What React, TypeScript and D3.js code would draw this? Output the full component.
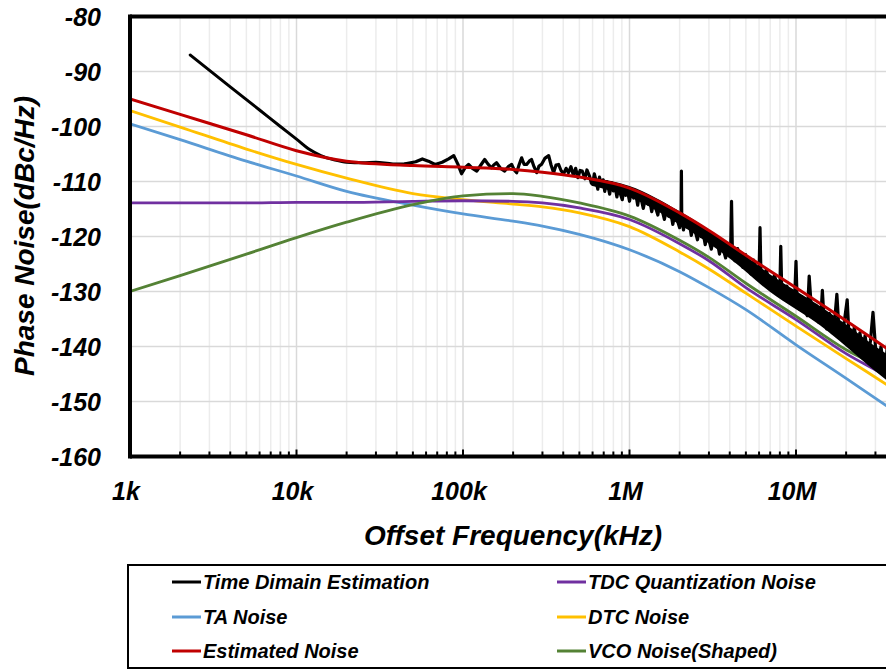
import React from "react";
import * as d3 from "d3";

// ---------- DATA ----------
// offset frequency in kHz
const freqs = [1, 2, 5, 10, 20, 50, 100, 200, 300, 500, 1000, 2000, 3000, 5000, 10000, 20000, 35000, 100000];
const taNoise = [-99.5, -102.4, -106.3, -109.0, -111.8, -114.3, -115.9, -117.2, -118.1, -119.6, -122.4, -126.4, -129.3, -133.3, -139.7, -145.8, -150.8, -160.0];
const dtcNoise = [-97.1, -100.1, -104.1, -106.9, -109.4, -112.2, -113.3, -114.1, -114.6, -115.7, -118.2, -122.8, -125.9, -130.3, -136.3, -142.2, -146.9, -156.0];
const tdcNoise = [-113.9, -113.9, -113.9, -113.8, -113.8, -113.6, -113.5, -113.6, -113.9, -114.8, -116.9, -121.3, -124.4, -129.3, -135.1, -141.3, -145.4, -154.5];
const vcoNoise = [-130.0, -127.1, -123.2, -120.2, -117.4, -114.2, -112.6, -112.2, -112.7, -113.9, -116.3, -120.7, -123.8, -128.5, -134.5, -140.6, -144.3, -153.0];
const estNoise = [-95.0, -97.8, -101.5, -104.4, -106.3, -107.1, -107.4, -107.8, -108.3, -109.2, -111.2, -115.7, -118.9, -123.4, -129.3, -135.3, -140.3, -149.5];

// time-domain estimation trace, smooth start [kHz, dBc/Hz]
const timeDomainStart: [number, number][] = [
  [2.3, -87.0], [4, -92.8], [6, -97.0], [8, -100.0], [10, -102.3], [12, -104.2], [14, -105.3], [17, -106.1],
  [20, -106.5], [25, -106.6], [30, -106.5], [38, -106.8], [45, -106.8],
];
// noisy part of the time-domain trace [kHz, dBc/Hz]
const timeDomain: [number, number][] = [
  [45, -106.8], [52, -106.4], [57, -105.9], [62, -106.3],
  [68, -106.9], [75, -106.5], [82, -105.9], [88, -105.3], [93, -106.8], [98, -108.6], [103, -107.5], [108, -106.9],
  [114, -107.6], [121, -108.1], [128, -107.0], [135, -106.0], [141, -106.8], [148, -107.5], [153, -107.0], [159, -106.6],
  [168, -107.6], [178, -108.1], [187, -107.3], [196, -106.9], [203, -107.9], [210, -108.4], [217, -107.0], [225, -105.7],
  [233, -106.9], [241, -106.9], [250, -106.3], [258, -106.0], [267, -107.3], [277, -108.4], [286, -107.2], [296, -106.9],
  [310, -105.8], [327, -105.3], [338, -107.0], [350, -108.4], [362, -107.0], [375, -106.9], [388, -108.0], [402, -108.6],
  [416, -107.6], [430, -108.4], [445, -107.3], [460, -108.9], [475, -107.6], [490, -109.3], [505, -108.0], [520, -108.1],
  [540, -109.5], [555, -107.9], [575, -109.0], [590, -110.3],
  [600, -110.5], [615, -108.6], [630, -109.9], [645, -111.4], [660, -109.2], [680, -110.6], [695, -109.7], [710, -111.8],
  [730, -110.0], [745, -111.0], [760, -112.3], [780, -110.2], [800, -111.7], [820, -110.9], [840, -112.8], [860, -111.0],
  [880, -112.2], [905, -113.3], [925, -111.3], [950, -112.5], [975, -111.9], [1000, -113.6], [1030, -111.6], [1060, -113.0],
  [1090, -112.2], [1120, -114.3], [1150, -112.0], [1180, -113.4], [1210, -114.9], [1250, -112.8], [1290, -114.1], [1320, -113.3],
  [1360, -115.5], [1400, -113.6], [1440, -114.9], [1480, -116.1], [1520, -113.9], [1570, -115.2], [1620, -116.9], [1670, -114.9],
  [1720, -116.3], [1770, -115.6], [1820, -117.8], [1880, -115.6], [1940, -117.1], [2000, -118.4], [2040, -116.2], [2050, -108.1],
  [2060, -116.6], [2110, -118.8], [2170, -116.8], [2230, -118.3], [2290, -117.5], [2350, -119.8], [2420, -117.9], [2490, -119.2],
  [2560, -120.6], [2630, -118.6], [2700, -120.0], [2770, -119.3], [2850, -121.5], [2930, -119.5], [3010, -120.8], [3100, -122.3],
  [3190, -120.2], [3280, -121.6], [3370, -120.9], [3470, -123.2], [3570, -121.2], [3670, -122.5], [3780, -123.9], [3890, -121.8],
  [4000, -123.0], [4050, -122.2], [4100, -113.6], [4150, -122.9], [4300, -124.4],
  [4460, -122.2], [4630, -123.8], [4800, -125.6], [4980, -123.3], [5170, -124.8], [5360, -126.8], [5560, -124.3], [5770, -126.0],
  [5990, -127.5], [6080, -118.4], [6150, -126.2], [6400, -127.9], [6640, -126.0], [6890, -128.4], [7150, -129.4], [7420, -127.0],
  [7700, -128.9], [7990, -130.4], [8100, -121.8], [8200, -129.0], [8500, -131.2], [8800, -129.0], [9150, -131.0], [9500, -132.3],
  [9850, -130.0], [10000, -124.5], [10150, -131.5], [10500, -133.2], [10900, -131.0], [11300, -133.5], [11700, -134.4], [12000, -127.2],
  [12300, -132.0], [12700, -134.8], [13200, -132.5], [13700, -135.6], [14200, -133.0], [14400, -129.8], [14700, -134.5], [15300, -136.8],
  [15900, -134.0], [16500, -137.5], [17100, -135.0], [17600, -130.5], [18100, -136.8], [18800, -138.5], [19500, -135.5], [20300, -131.5],
  [20800, -138.0], [21600, -139.5], [22400, -136.5], [23300, -140.0], [24200, -137.5], [25100, -141.0], [26000, -138.0], [27000, -141.8],
  [28000, -139.0], [29000, -133.8], [30000, -140.0], [31200, -143.0], [32400, -140.0], [33600, -144.2], [35000, -141.5], [36300, -136.0],
  [37700, -143.0], [39000, -145.5],
];
// dense noise band of the time-domain trace
const bandFreqs = [600, 1000, 2000, 4000, 7000, 14000, 20000, 30000, 40000];
const bandUpper = [-109.3, -110.8, -115.4, -121.4, -126.9, -132.7, -136.0, -140.0, -142.5];
const bandLower = [-110.8, -112.8, -117.8, -124.0, -130.1, -136.2, -140.0, -144.5, -147.5];

const xTickValues = [1, 10, 100, 1000, 10000];
const xTickLabels = ["1k", "10k", "100k", "1M", "10M"];
const yTicks = [-80, -90, -100, -110, -120, -130, -140, -150, -160];

const seriesNames = ["Time Dimain Estimation", "TDC Quantization Noise", "TA Noise", "DTC Noise", "Estimated Noise", "VCO Noise(Shaped)"];
const seriesColors = ["#000000", "#7030a0", "#5b9bd5", "#ffc000", "#c00000", "#548235"];

// ---------- LAYOUT ----------
const W = 886, H = 670;
const left = 130, top = 16.5, bottom = 456.5, right = 962.5;
const FONT = "'Liberation Sans', Arial, sans-serif";

export default function App() {
  const x = d3.scaleLog().domain([1, 100000]).range([left, right]);
  const y = d3.scaleLinear().domain([-160, -80]).range([bottom, top]);
  const minorTicks = x.ticks();

  const smooth = d3.line<[number, number]>().x((d) => x(d[0])).y((d) => y(d[1])).curve(d3.curveMonotoneX);
  const straight = d3.line<[number, number]>().x((d) => x(d[0])).y((d) => y(d[1]));
  const band = d3.area<number>()
    .x((_, i) => x(bandFreqs[i]))
    .y0((_, i) => y(bandLower[i]))
    .y1((_, i) => y(bandUpper[i]))
    .curve(d3.curveMonotoneX);

  const zip = (vals: number[]) => freqs.map((f, i) => [f, vals[i]] as [number, number]);

  const legendRows = [0, 1, 2];
  const legendY = [582, 617, 651];
  const legendColX = [172, 557];

  return (
    <svg width={W} height={H} style={{ position: "absolute", left: 0, top: 0, background: "#fff" }} fontFamily={FONT}>
      <defs>
        <clipPath id="plot">
          <rect x={left} y={top} width={right - left} height={bottom - top} />
        </clipPath>
      </defs>
      <rect width={W} height={H} fill="#fff" />
      {/* vertical grid */}
      {minorTicks.map((t, i) => {
        const major = Math.abs(Math.log10(t) - Math.round(Math.log10(t))) < 1e-6;
        return (
          <line key={"vg" + i} x1={x(t)} x2={x(t)} y1={top} y2={bottom}
            stroke={major ? "#d9d9d9" : "#ececec"} strokeWidth={1.5} />
        );
      })}
      {/* horizontal grid */}
      {yTicks.map((t) => (
        <line key={"hg" + t} x1={left} x2={right} y1={y(t)} y2={y(t)} stroke="#d9d9d9" strokeWidth={1.5} />
      ))}
      {/* bottom minor ticks */}
      {minorTicks.map((t, i) => {
        const major = Math.abs(Math.log10(t) - Math.round(Math.log10(t))) < 1e-6;
        return (
          <line key={"tk" + i} x1={x(t)} x2={x(t)} y1={bottom} y2={bottom - (major ? 7 : 5)}
            stroke="#000" strokeWidth={2} />
        );
      })}

      <g clipPath="url(#plot)" fill="none" strokeLinejoin="round" strokeLinecap="round">
        <path d={smooth(zip(taNoise)) || ""} stroke={seriesColors[2]} strokeWidth={2.8} />
        <path d={smooth(zip(dtcNoise)) || ""} stroke={seriesColors[3]} strokeWidth={2.8} />
        <path d={smooth(zip(tdcNoise)) || ""} stroke={seriesColors[1]} strokeWidth={2.8} />
        <path d={smooth(zip(vcoNoise)) || ""} stroke={seriesColors[5]} strokeWidth={2.8} />
        <path d={band(bandFreqs) || ""} fill="#000" stroke="none" />
        <path d={smooth(timeDomainStart) || ""} stroke="#000" strokeWidth={3} />
        <path d={straight(timeDomain) || ""} stroke="#000" strokeWidth={3.2} />
        <path d={smooth(zip(estNoise)) || ""} stroke={seriesColors[4]} strokeWidth={3} />
      </g>

      {/* frame */}
      <line x1={left} x2={right} y1={top} y2={top} stroke="#000" strokeWidth={4} />
      <line x1={left} x2={right} y1={bottom} y2={bottom} stroke="#000" strokeWidth={4} />
      <line x1={left} x2={left} y1={top - 2} y2={bottom + 2} stroke="#000" strokeWidth={4} />

      {/* y tick labels */}
      {yTicks.map((t) => (
        <text key={"yl" + t} x={101} y={y(t)} dy="0.36em" textAnchor="end" fontSize={25}
          fontWeight="bold" fontStyle="italic" fill="#000">{t}</text>
      ))}
      {/* x tick labels */}
      {xTickValues.map((t, i) => (
        <text key={"xl" + t} x={x(t) - 4} y={500} textAnchor="middle" fontSize={25}
          fontWeight="bold" fontStyle="italic" fill="#000">{xTickLabels[i]}</text>
      ))}
      {/* axis titles */}
      <text x={513} y={545} textAnchor="middle" fontSize={28} fontWeight="bold" fontStyle="italic">
        Offset Frequency(kHz)
      </text>
      <text transform="translate(34,236) rotate(-90)" textAnchor="middle" fontSize={28} fontWeight="bold" fontStyle="italic">
        Phase Noise(dBc/Hz)
      </text>

      {/* legend */}
      <rect x={128} y={565} width={800} height={103} fill="#fff" stroke="#000" strokeWidth={2} />
      {legendRows.map((r) =>
        [0, 1].map((c) => {
          const idx = r * 2 + c;
          return (
            <g key={"lg" + idx}>
              <line x1={legendColX[c]} x2={legendColX[c] + 29} y1={legendY[r]} y2={legendY[r]}
                stroke={seriesColors[idx]} strokeWidth={3} />
              <text x={legendColX[c] + 31} y={legendY[r]} dy="0.36em" fontSize={20}
                fontWeight="bold" fontStyle="italic">{seriesNames[idx]}</text>
            </g>
          );
        })
      )}
    </svg>
  );
}
